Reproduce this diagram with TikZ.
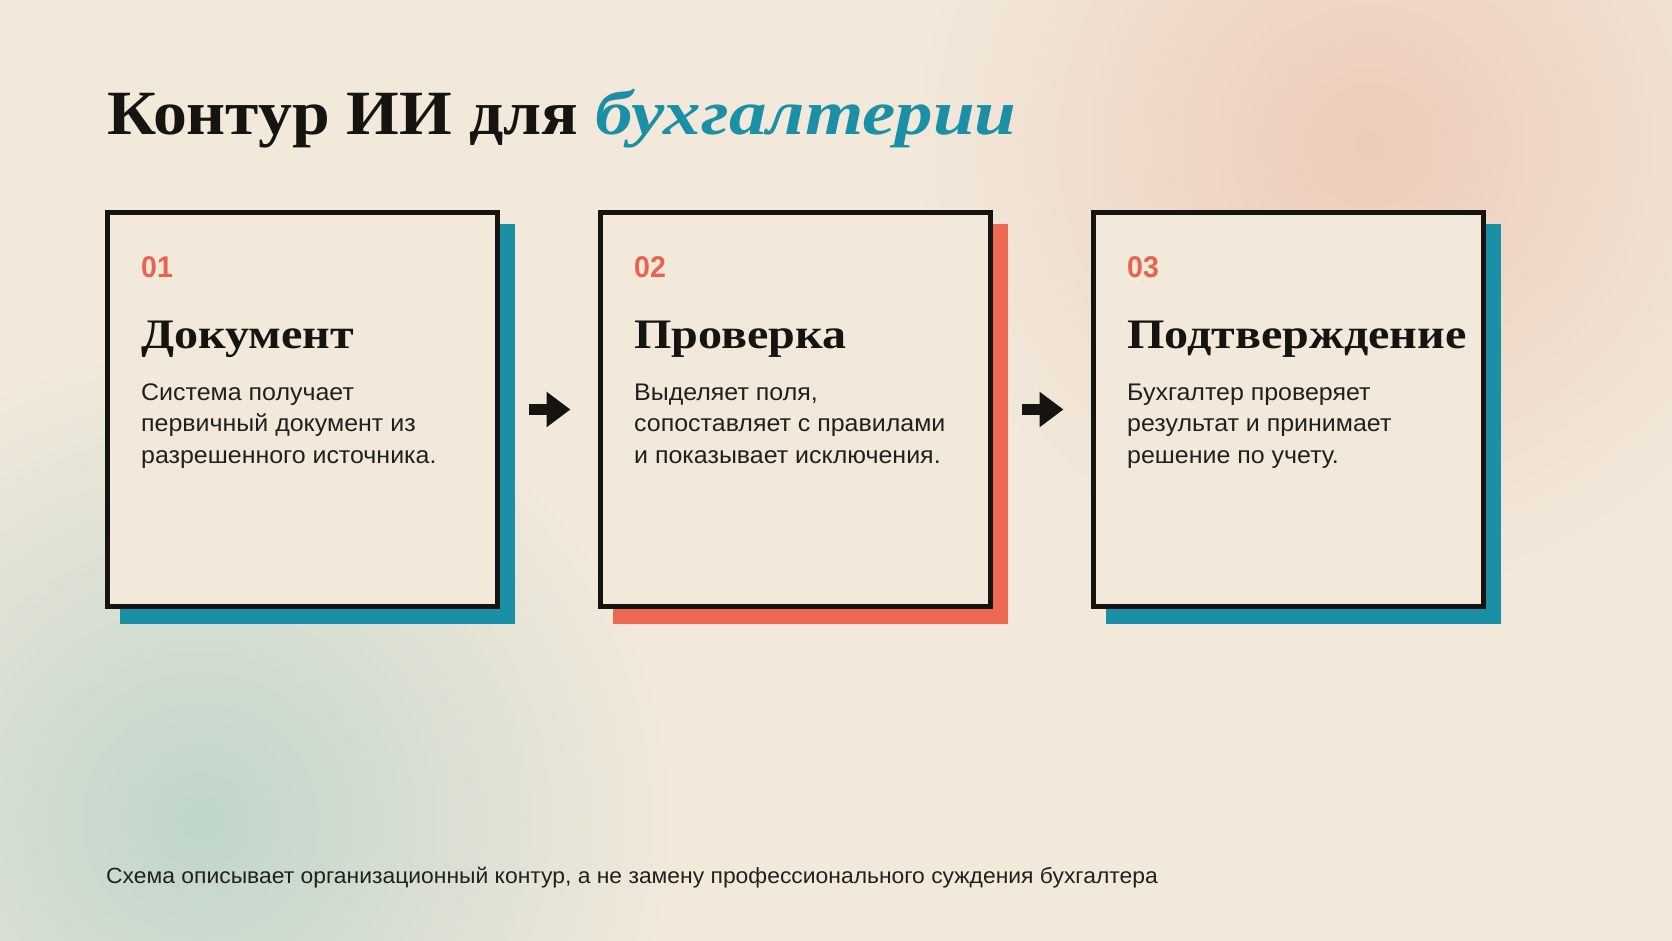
\documentclass[tikz,border=0pt]{standalone}
\usepackage{fontspec}
\setmainfont{Liberation Serif}
\setsansfont[FakeStretch=1.04]{Liberation Sans}
\newfontfamily\titlefont[FakeStretch=1.076]{Liberation Serif}
\newfontfamily\titleitfont[FakeStretch=1.19]{Liberation Serif}
\newfontfamily\headfont[FakeStretch=1.145]{Liberation Serif}
\newfontfamily\numfont[FakeStretch=0.95]{Liberation Sans}
\usetikzlibrary{arrows.meta,fadings}
\tikzfading[name=blobfade, inner color=transparent!0, outer color=transparent!100]
\definecolor{bg}{RGB}{242,233,219}
\definecolor{cardbg}{RGB}{242,233,219}
\definecolor{peach}{RGB}{238,204,186}
\definecolor{sage}{RGB}{192,214,203}
\definecolor{tealc}{RGB}{26,143,166}
\definecolor{coral}{RGB}{238,105,82}
\definecolor{numc}{RGB}{232,100,79}
\definecolor{ink}{RGB}{22,20,17}
\definecolor{body}{RGB}{34,32,30}
\begin{document}
\begin{tikzpicture}[x=1pt,y=-1pt,
  card/.style={draw=ink, line width=5pt, fill=cardbg, minimum width=390pt, minimum height=394pt, inner sep=0pt, outer sep=0pt},
  shadowbox/.style={fill=#1, minimum width=395pt, minimum height=400pt, inner sep=0pt, outer sep=0pt},
  numtxt/.style={anchor=base west, inner sep=0pt, text=numc, font=\numfont\bfseries\fontsize{30}{36}\selectfont},
  headtxt/.style={anchor=base west, inner sep=0pt, text=ink, font=\headfont\bfseries\fontsize{42}{50}\selectfont},
  bodytxt/.style={anchor=base west, inner sep=0pt, text=body, font=\sffamily\fontsize{24}{31.5}\selectfont},
  flow/.style={draw=ink, line width=11pt, -{Triangle[length=24pt,width=34pt]}}
]
\useasboundingbox (0,0) rectangle (1672,941);
\fill[bg] (0,0) rectangle (1672,941);
\begin{scope}
\clip (0,0) rectangle (1672,941);
\fill[peach, path fading=blobfade] (1370,145) circle (450);
\fill[sage, path fading=blobfade] (200,820) circle (470);
\end{scope}

\node[anchor=base west, inner sep=0pt, text=ink, font=\titlefont\bfseries\fontsize{63}{72}\selectfont] (title) at (107,135)
  {Контур ИИ для {\titleitfont\bfseries\itshape\color{tealc}бухгалтерии}};

% card 1
\node[shadowbox=tealc] (s1) at (317.5,424) {};
\node[card] (c1) at (302.5,409.5) {};
\node[numtxt] (n1) at (141,277) {01};
\node[headtxt] (h1) at (141,348) {Документ};
\node[bodytxt] (b1) at (141,400) {\vtop{\hbox{Система получает}\hbox{первичный документ из}\hbox{разрешенного источника.}}};

% card 2
\node[shadowbox=coral] (s2) at (810.5,424) {};
\node[card] (c2) at (795.5,409.5) {};
\node[numtxt] (n2) at (634,277) {02};
\node[headtxt] (h2) at (634,348) {Проверка};
\node[bodytxt] (b2) at (634,400) {\vtop{\hbox{Выделяет поля,}\hbox{сопоставляет с правилами}\hbox{и показывает исключения.}}};

% card 3
\node[shadowbox=tealc] (s3) at (1303.5,424) {};
\node[card] (c3) at (1288.5,409.5) {};
\node[numtxt] (n3) at (1127,277) {03};
\node[headtxt] (h3) at (1127,348) {Подтверждение};
\node[bodytxt] (b3) at (1127,400) {\vtop{\hbox{Бухгалтер проверяет}\hbox{результат и принимает}\hbox{решение по учету.}}};

% arrows
\draw[flow] ([xshift=14pt]s1.east |- c1.center) -- ([xshift=-30pt]c2.west);
\draw[flow] ([xshift=14pt]s2.east |- c2.center) -- ([xshift=-30pt]c3.west);

\node[anchor=base west, inner sep=0pt, text=body, font=\sffamily\fontsize{22}{26}\selectfont] (foot) at (106,883)
  {Схема описывает организационный контур, а не замену профессионального суждения бухгалтера};
\end{tikzpicture}
\end{document}
